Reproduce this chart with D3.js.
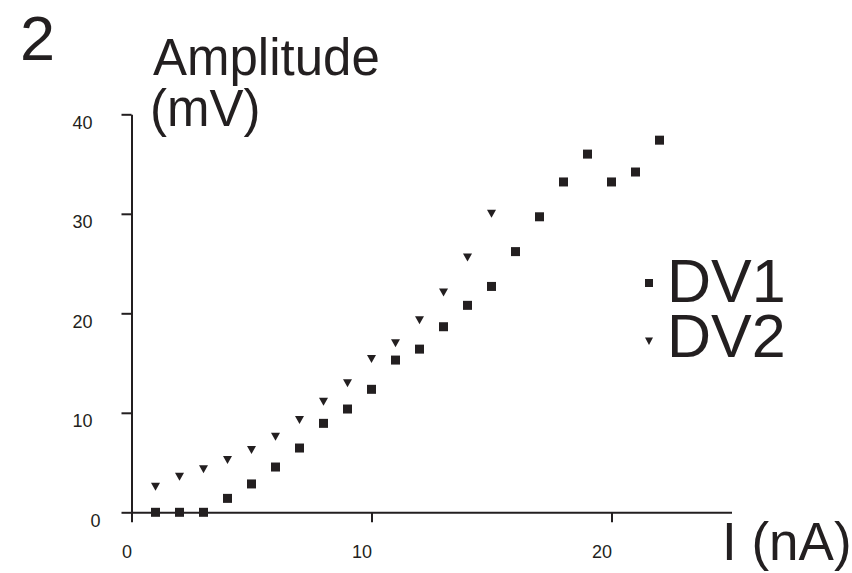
<!DOCTYPE html>
<html>
<head>
<meta charset="UTF-8">
<title>Amplitude vs I</title>
<style>
body { margin: 0; background: #fff; }
svg text { font-family: "Liberation Sans", Arial, sans-serif; fill: #231f20; }
.axis path, .axis line { stroke: #231f20; stroke-width: 2; }
</style>
<script src="https://d3js.org/d3.v7.min.js"></script>
</head>
<body>
<div id="chart"></div>
<script>
// values
var current = [1, 2, 3, 4, 5, 6, 7, 8, 9, 10, 11, 12, 13, 14, 15, 16, 17, 18, 19, 20, 21, 22];
var dv1 = [0, 0, 0, 1.4, 2.85, 4.55, 6.46, 8.94, 10.38, 12.36, 15.3, 16.4, 18.65, 20.8, 22.7, 26.2, 29.7, 33.2, 36.0, 33.2, 34.2, 37.4];
var dv2 = [2.57, 3.58, 4.32, 5.26, 6.26, 7.6, 9.28, 11.1, 12.96, 15.4, 17.0, 19.3, 22.1, 25.6, 30.0];
var xTicks = [0, 10, 20];
var yTicks = [0, 10, 20, 30, 40];
var seriesNames = ["DV1", "DV2"];

var width = 852, height = 573;
var ink = "#231f20";

var svg = d3.select("#chart").append("svg")
    .attr("width", width)
    .attr("height", height);

var x = d3.scaleLinear().domain([0, 25]).range([131.5, 731.5]);
var y = d3.scaleLinear().domain([0, 40]).range([512.3, 114.3]);

// axes
var gy = svg.append("g")
    .attr("class", "axis")
    .attr("transform", "translate(" + x(0) + ",0)")
    .call(d3.axisLeft(y).tickValues(yTicks).tickSize(10).tickSizeOuter(0).tickPadding(29));
gy.selectAll("text")
    .attr("font-size", 18)
    .attr("dy", "0.78em")
    .attr("dx", function (d) { return d === 0 ? 8 : 0; });

var gx = svg.append("g")
    .attr("class", "axis")
    .attr("transform", "translate(0," + y(0) + ")")
    .call(d3.axisBottom(x).tickValues(xTicks).tickSize(10).tickSizeOuter(0).tickPadding(23));
gx.selectAll("text")
    .attr("font-size", 18)
    .attr("text-anchor", "end");

svg.selectAll(".axis text").attr("fill", ink).style("font-family", "'Liberation Sans', Arial, sans-serif");

// markers
var tri = "M-4.5,-4L4.5,-4L0,4Z";

svg.append("g").selectAll("rect")
    .data(dv1)
    .enter()
    .append("rect")
    .attr("x", function (d, i) { return x(current[i]) - 4.5; })
    .attr("y", function (d) { return y(d) - 4.5; })
    .attr("width", 9)
    .attr("height", 9)
    .attr("fill", ink);

svg.append("g").selectAll("path")
    .data(dv2)
    .enter()
    .append("path")
    .attr("d", tri)
    .attr("transform", function (d, i) { return "translate(" + x(current[i]) + "," + y(d) + ")"; })
    .attr("fill", ink);

// titles
svg.append("text").attr("x", 20).attr("y", 60).attr("font-size", 63).text("2");
svg.append("text").attr("x", 153).attr("y", 75).attr("font-size", 51).text("Amplitude");
svg.append("text").attr("x", 150).attr("y", 126).attr("font-size", 51).text("(mV)");
svg.append("text").attr("x", 722).attr("y", 560).attr("font-size", 53).text("I (nA)");

// legend
var legend = svg.append("g");
legend.append("rect")
    .attr("x", 645).attr("y", 279).attr("width", 8).attr("height", 8)
    .attr("fill", ink);
legend.append("path")
    .attr("d", "M-4,-3.5L4,-3.5L0,4Z")
    .attr("transform", "translate(649,341)")
    .attr("fill", ink);
legend.selectAll("text")
    .data(seriesNames)
    .enter()
    .append("text")
    .attr("x", 667)
    .attr("y", function (d, i) { return 302 + i * 55; })
    .attr("font-size", 61)
    .text(function (d) { return d; });
</script>
</body>
</html>
